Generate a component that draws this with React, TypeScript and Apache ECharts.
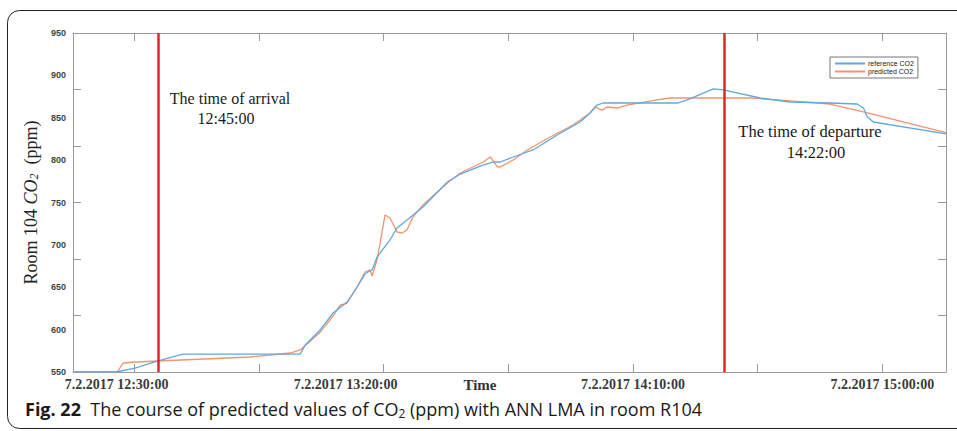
import React, { useEffect, useRef } from "react";
import * as echarts from "echarts";

// x values are minutes after 12:00 on 7.2.2017
const refMinutes = [17.75, 26.4, 30.2, 34.8, 39.8, 53.3, 63.3, 64.3, 67.3, 69.9, 72.7, 74.7, 76.3, 76.9, 77.7, 78.7, 81.3, 82.7, 84.7, 87.9, 92.8, 95.4, 99.4, 102, 103.4, 106, 108.8, 110, 114.8, 119.4, 121.4, 122.8, 124, 138.9, 140.9, 146.1, 148.1, 155.5, 161.5, 169.5, 174.9, 176.2, 177, 178.2, 192.75];
const refValues = [550, 550, 554.7, 563, 571.2, 571, 571, 581.9, 599.6, 619.6, 632.6, 650.3, 665.7, 668, 670.4, 685.7, 705.8, 720, 729.4, 744.7, 774.2, 783.6, 793, 797.8, 797.8, 803.7, 809.6, 812, 829.7, 845, 855.6, 865, 867.4, 867.4, 871, 884, 882.8, 873.3, 868.6, 867.4, 866.2, 861.5, 851, 845, 831];

const predMinutes = [17.75, 26.6, 27.8, 30.2, 34.8, 53.3, 61.3, 63.3, 67.3, 69.9, 71.3, 72.7, 74.7, 76.3, 77.3, 77.7, 78.7, 80.3, 81.3, 82.7, 83.7, 84.7, 85.9, 87.9, 92.8, 95.4, 100, 101.4, 102.8, 103.4, 106, 108.8, 113.4, 118, 121.4, 122.4, 123.8, 124.8, 126.8, 128.8, 134.8, 137.4, 153.5, 161.5, 169.5, 176.2, 192.75];
const predValues = [550, 550, 560.6, 561.8, 563, 567.7, 572.4, 576, 597, 616, 629, 631.4, 650.3, 668, 670.4, 663.3, 682, 735.3, 731.7, 715.2, 714, 717.6, 733, 747, 773, 784.8, 797.8, 803.7, 791.9, 792, 800.2, 812, 827.3, 841.5, 855.6, 862.7, 859, 862.7, 861.5, 865, 871, 873.3, 873.3, 870, 866.2, 856.8, 832.5];

const xMin = 17.75;
const xMax = 192.75;
const xTickValues = [30, 55, 80, 105, 130, 155, 180];
const xLabelValues = [30, 80, 130, 180];
const yTickValues = [616.67, 683.33, 750, 816.67, 883.33];
const arrivalMinute = 34.81;
const departureMinute = 148.28;
const seriesNames = ["reference CO2", "predicted CO2"];

const pad = (n: number) => (n < 10 ? "0" + n : "" + n);
const fmtTime = (m: number) => {
  const h = 12 + Math.floor(m / 60);
  const mm = Math.round(m % 60);
  return `7.2.2017 ${h}:${pad(mm)}:00`;
};

const serif = "'Liberation Serif', 'DejaVu Serif', serif";
const sans = "'Liberation Sans', Arial, sans-serif";
const capFont = "'Open Sans', 'Noto Sans', sans-serif";

export default function App() {
  const ref = useRef<HTMLDivElement>(null);
  useEffect(() => {
    if (!ref.current) return;
    const chart = echarts.init(ref.current, undefined, { renderer: "svg" });
    const labelFont = { fontFamily: serif, fontSize: 14, fontWeight: "bold" as const, color: "#3a3a3a" };
    chart.setOption({
      animation: false,
      backgroundColor: "#fff",
      grid: { left: 73, top: 33, right: 11, bottom: 59, containLabel: false },
      legend: {
        left: 830,
        top: 57,
        orient: "vertical",
        itemGap: 1,
        itemWidth: 30,
        itemHeight: 2,
        padding: [3, 4, 3, 4],
        borderColor: "#777",
        borderWidth: 1,
        backgroundColor: "#fff",
        textStyle: { fontFamily: sans, fontSize: 7, color: "#222", padding: [0, 0, 0, -2] },
        data: seriesNames,
      },
      xAxis: [
        {
          type: "value",
          min: xMin,
          max: xMax,
          position: "bottom",
          axisLine: { lineStyle: { color: "#9a9a9a", width: 1 } },
          axisTick: { inside: true, length: 8, customValues: xTickValues, lineStyle: { color: "#9a9a9a" } },
          splitLine: { show: false },
          axisLabel: {
            customValues: xLabelValues,
            margin: 5,
            ...labelFont,
            formatter: (v: number) => {
              const t = fmtTime(v);
              if (v === 30) return `{a|${t}}`;
              if (v === 80) return `{b|${t}}`;
              return `{n|${t}}`;
            },
            rich: {
              a: { ...labelFont, padding: [0, 35, 0, 0] },
              b: { ...labelFont, padding: [0, 76, 0, 0] },
              n: { ...labelFont },
            },
          },
        },
        {
          type: "value",
          min: xMin,
          max: xMax,
          position: "top",
          axisLine: { lineStyle: { color: "#9a9a9a", width: 1 } },
          axisTick: { inside: true, length: 8, customValues: xTickValues, lineStyle: { color: "#9a9a9a" } },
          axisLabel: { show: false },
          splitLine: { show: false },
        },
      ],
      yAxis: [
        {
          type: "value",
          min: 550,
          max: 950,
          interval: 50,
          position: "left",
          axisLine: { show: true, lineStyle: { color: "#9a9a9a", width: 1 } },
          axisTick: { show: true, inside: true, length: 8, customValues: yTickValues, lineStyle: { color: "#9a9a9a" } },
          splitLine: { show: false },
          axisLabel: { margin: 7, fontFamily: sans, fontSize: 9, fontWeight: "bold", color: "#444" },
          name: "{r|Room 104 }{i|CO}{s|2}{r|  (ppm)}",
          nameLocation: "middle",
          nameGap: 27,
          nameTextStyle: {
            rich: {
              r: { fontFamily: serif, fontSize: 18, color: "#222" },
              i: { fontFamily: serif, fontSize: 18, fontStyle: "italic", color: "#222" },
              s: { fontFamily: serif, fontSize: 12, fontStyle: "italic", color: "#222", verticalAlign: "bottom", padding: [6, 0, 0, 0] },
            },
          },
        },
        {
          type: "value",
          min: 550,
          max: 950,
          position: "right",
          axisLine: { show: true, lineStyle: { color: "#9a9a9a", width: 1 } },
          axisTick: { show: true, inside: true, length: 8, customValues: yTickValues, lineStyle: { color: "#9a9a9a" } },
          splitLine: { show: false },
          axisLabel: { show: false },
        },
      ],
      series: [
        {
          name: seriesNames[0],
          type: "line",
          symbol: "none",
          data: refMinutes.map((m, i) => [m, refValues[i]]),
          lineStyle: { color: "#62a8dc", width: 1.3 },
          itemStyle: { color: "#62a8dc" },
          z: 3,
          markLine: {
            silent: true,
            symbol: "none",
            label: { show: false },
            lineStyle: { color: "#e3242b", width: 2.5, type: "solid" },
            data: [{ xAxis: arrivalMinute }, { xAxis: departureMinute }],
            z: 5,
          },
        },
        {
          name: seriesNames[1],
          type: "line",
          symbol: "none",
          data: predMinutes.map((m, i) => [m, predValues[i]]),
          lineStyle: { color: "#f2946e", width: 1.3 },
          itemStyle: { color: "#f2946e" },
          z: 2,
        },
      ],
      graphic: [
        {
          type: "rect",
          z: -10,
          shape: { x: 7.5, y: 10.5, width: 1000, height: 418, r: 12 },
          style: { fill: "none", stroke: "#222", lineWidth: 1 },
        },
        { type: "text", x: 230, y: 98, style: { text: "The time of arrival", fontFamily: serif, fontSize: 16, fill: "#1a1a1a", textAlign: "center", textVerticalAlign: "middle" } },
        { type: "text", x: 226, y: 118, style: { text: "12:45:00", fontFamily: serif, fontSize: 16, fill: "#1a1a1a", textAlign: "center", textVerticalAlign: "middle" } },
        { type: "text", x: 810, y: 131, style: { text: "The time of departure", fontFamily: serif, fontSize: 16.5, fill: "#1a1a1a", textAlign: "center", textVerticalAlign: "middle" } },
        { type: "text", x: 816, y: 152, style: { text: "14:22:00", fontFamily: serif, fontSize: 16.5, fill: "#1a1a1a", textAlign: "center", textVerticalAlign: "middle" } },
        { type: "text", x: 480, y: 385, style: { text: "Time", fontFamily: serif, fontSize: 15, fontWeight: "bold", fill: "#333", textAlign: "center", textVerticalAlign: "middle" } },
        {
          type: "text",
          x: 25,
          y: 409,
          style: {
            text: "{b|Fig. 22}{n|  The course of predicted values of CO}{s|2}{n| (ppm) with ANN LMA in room R104}",
            textVerticalAlign: "middle",
            rich: {
              b: { fontFamily: capFont, fontSize: 18, fontWeight: "bold", fill: "#1a1a1a" },
              n: { fontFamily: capFont, fontSize: 18, fill: "#1a1a1a" },
              s: { fontFamily: capFont, fontSize: 12, fill: "#1a1a1a", padding: [9, 0, 0, 0] },
            },
          },
        },
      ],
    });
    return () => chart.dispose();
  }, []);
  return <div ref={ref} style={{ position: "fixed", left: 0, top: 0, width: 957, height: 431 }} />;
}
